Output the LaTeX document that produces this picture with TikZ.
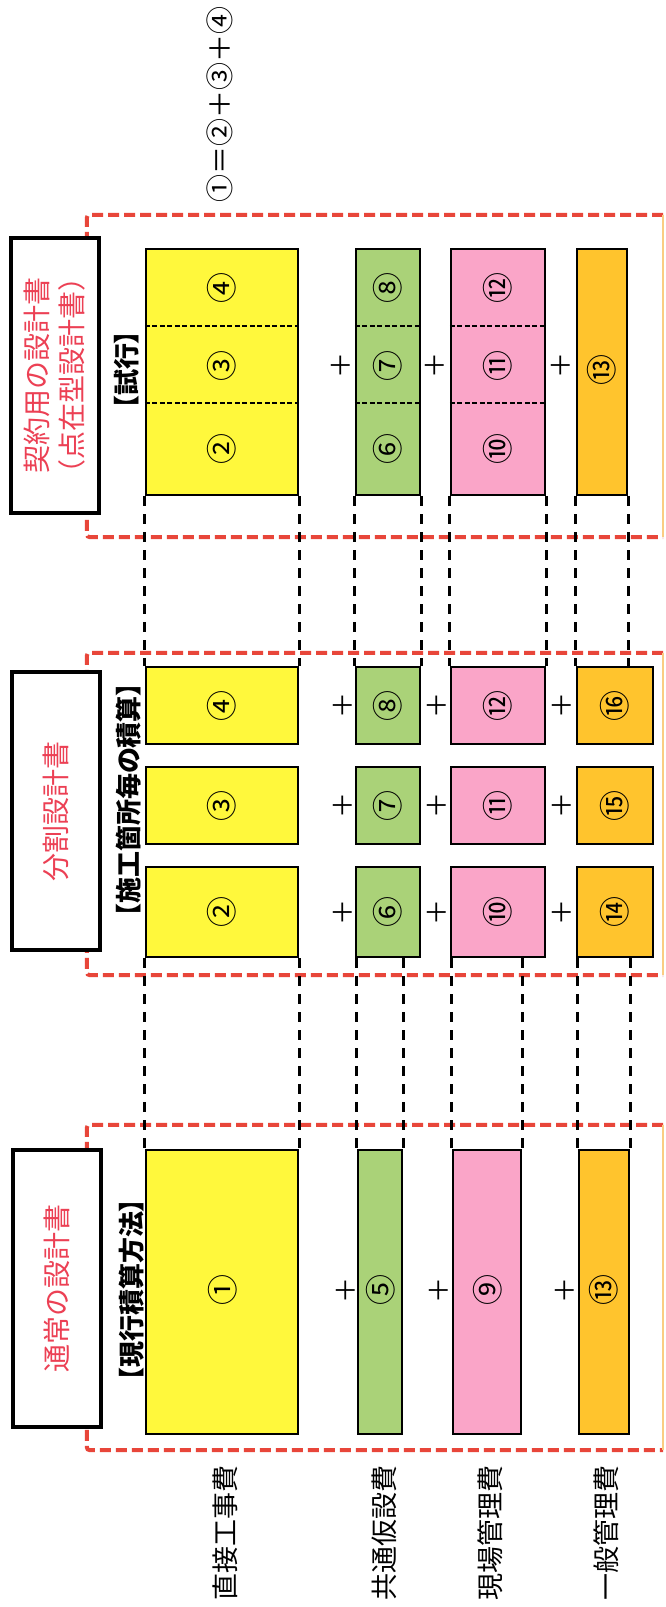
\documentclass[tikz,border=0pt]{standalone}
\usepackage{fontspec}
\setmainfont{Noto Sans CJK JP}
\newfontfamily\jpp[RawFeature=+palt]{Noto Sans CJK JP}
\definecolor{cyel}{RGB}{255,248,60}
\definecolor{cgrn}{RGB}{170,210,120}
\definecolor{cpnk}{RGB}{250,165,200}
\definecolor{corg}{RGB}{255,196,45}
\definecolor{cred}{RGB}{232,70,58}
\definecolor{ctxt}{RGB}{236,64,84}
\definecolor{cedge}{RGB}{250,205,130}
\begin{document}
\begin{tikzpicture}[x=1pt,y=-1pt,
  cbox/.style={draw=black,line width=2.5pt,inner sep=0pt},
  tbox/.style={draw=black,line width=4pt,fill=white,inner sep=0pt,rotate=90,
     text=ctxt,align=center,font=\fontsize{28}{35}\selectfont},
  frame/.style={draw=none,inner sep=0pt},
  reddash/.style={draw=cred,line width=4pt,dash pattern=on 11pt off 5pt,rounded corners=3pt},
  edgeline/.style={draw=cedge,line width=2pt},
  bdash/.style={draw=black,line width=3pt,dash pattern=on 10pt off 8pt},
  divline/.style={draw=black,line width=2.5pt,dash pattern=on 5pt off 2.5pt},
  num/.style={rotate=90,inner sep=0pt,font=\fontsize{31}{31}\selectfont},
  plus/.style={rotate=90,inner sep=0pt,font=\fontsize{26}{26}\selectfont},
  brk/.style={rotate=90,inner sep=0pt,font=\jpp\bfseries\fontsize{26}{26}\selectfont},
  cat/.style={rotate=90,inner sep=0pt,font=\fontsize{27}{27}\selectfont},
]
\fill[white] (0,0) rectangle (665,1607);
\useasboundingbox (0,0) rectangle (665,1607);

% formula
\node[rotate=90,inner sep=0pt,font=\fontsize{28}{28}\selectfont] (form) at (220,104) {①＝②＋③＋④};

% red section frames
\node[frame,minimum width=576pt,minimum height=322pt] (rT) at (375,376) {};
\node[frame,minimum width=576pt,minimum height=322pt] (rM) at (375,814) {};
\node[frame,minimum width=576pt,minimum height=325pt] (rB) at (375,1287.5) {};
\foreach \r in {rT,rM,rB}{
  \draw[reddash] (\r.north east) -- (\r.north west) -- (\r.south west) -- (\r.south east);
  \draw[edgeline] (\r.north east) -- (\r.south east);
}

% ---------- top section ----------
\node[cbox,fill=cyel,minimum width=152pt,minimum height=246pt] (yT) at (222,372) {};
\node[cbox,fill=cgrn,minimum width=64pt,minimum height=246pt] (gT) at (388,372) {};
\node[cbox,fill=cpnk,minimum width=94pt,minimum height=246pt] (pT) at (498,372) {};
\node[cbox,fill=corg,minimum width=50pt,minimum height=246pt] (oT) at (602,372) {};
\foreach \b in {yT,gT,pT}{
  \draw[divline] ([yshift=-78pt]\b.north west) -- ([yshift=-78pt]\b.north east);
  \draw[divline] ([yshift=-155pt]\b.north west) -- ([yshift=-155pt]\b.north east);
}
\node[num] (t4) at (222,288) {④};
\node[num] (t3) at (222,366) {③};
\node[num] (t2) at (222,449) {②};
\node[num] (t8) at (388,288) {⑧};
\node[num] (t7) at (388,366) {⑦};
\node[num] (t6) at (388,449) {⑥};
\node[num] (t12) at (498,288) {⑫};
\node[num] (t11) at (498,366) {⑪};
\node[num] (t10) at (498,449) {⑩};
\node[num] (t13) at (602,370) {⑬};
\node[plus] (tp1) at (341,365) {＋};
\node[plus] (tp2) at (435,365) {＋};
\node[plus] (tp3) at (561,365) {＋};
\node[brk] (tbr) at (127,370) {【試行】};

% ---------- middle section ----------
\foreach \row/\yc/\h in {1/705.5/77,2/805.5/77,3/912/90}{
  \node[cbox,fill=cyel,minimum width=152pt,minimum height=\h pt] (yM\row) at (222,\yc) {};
  \node[cbox,fill=cgrn,minimum width=64pt,minimum height=\h pt] (gM\row) at (388,\yc) {};
  \node[cbox,fill=cpnk,minimum width=94pt,minimum height=\h pt] (pM\row) at (498,\yc) {};
  \node[cbox,fill=corg,minimum width=76pt,minimum height=\h pt] (oM\row) at (615,\yc) {};
  \node[plus] (mpa\row) at (343,\yc) {＋};
  \node[plus] (mpb\row) at (437,\yc) {＋};
  \node[plus] (mpc\row) at (562,\yc) {＋};
}
\node[num] at (yM1) {④};
\node[num] at (yM2) {③};
\node[num] at (yM3) {②};
\node[num] at (gM1) {⑧};
\node[num] at (gM2) {⑦};
\node[num] at (gM3) {⑥};
\node[num] at (pM1) {⑫};
\node[num] at (pM2) {⑪};
\node[num] at (pM3) {⑩};
\node[num] at (oM1) {⑯};
\node[num] at (oM2) {⑮};
\node[num] at (oM3) {⑭};
\node[brk] (mbr) at (129,800) {【施工箇所毎の積算】};

% ---------- bottom section ----------
\node[cbox,fill=cyel,minimum width=152pt,minimum height=284pt] (yB) at (222,1292) {};
\node[cbox,fill=cgrn,minimum width=44pt,minimum height=284pt] (gB) at (380,1292) {};
\node[cbox,fill=cpnk,minimum width=68pt,minimum height=284pt] (pB) at (487,1292) {};
\node[cbox,fill=corg,minimum width=50pt,minimum height=284pt] (oB) at (604,1292) {};
\node[num] (b1) at (223,1290) {①};
\node[num] (b5) at (381,1290) {⑤};
\node[num] (b9) at (488,1290) {⑨};
\node[num] (b13) at (604,1290) {⑬};
\node[plus] (bp1) at (346,1290) {＋};
\node[plus] (bp2) at (439,1290) {＋};
\node[plus] (bp3) at (565,1290) {＋};
\node[brk] (bbr) at (132,1290) {【現行積算方法】};

% ---------- dashed guide lines ----------
\foreach \b/\m in {yT/yM1,gT/gM1,pT/pM1,oT/oM1}{
  \draw[bdash] (\b.south west) -- (\b.south west |- \m.north);
  \draw[bdash] (\b.south east) -- (\b.south east |- \m.north);
}
\foreach \b/\m in {yB/yM3,gB/gM3,pB/pM3,oB/oM3}{
  \draw[bdash] (\b.north west |- \m.south) -- (\b.north west);
  \draw[bdash] (\b.north east |- \m.south) -- (\b.north east);
}

% ---------- title boxes ----------
\node[tbox,minimum width=275pt,minimum height=88pt] (ttT) at (55,375.5) {契約用の設計書\\（点在型設計書）};
\node[tbox,minimum width=278pt,minimum height=88pt] (ttM) at (56,811) {分割設計書};
\node[tbox,minimum width=277pt,minimum height=88pt] (ttB) at (57,1288.5) {通常の設計書};

% ---------- category labels ----------
\node[cat] (c1) at (225,1533) {直接工事費};
\node[cat] (c2) at (384,1533) {共通仮設費};
\node[cat] (c3) at (490,1533) {現場管理費};
\node[cat] (c4) at (606,1533) {一般管理費};
\end{tikzpicture}
\end{document}
